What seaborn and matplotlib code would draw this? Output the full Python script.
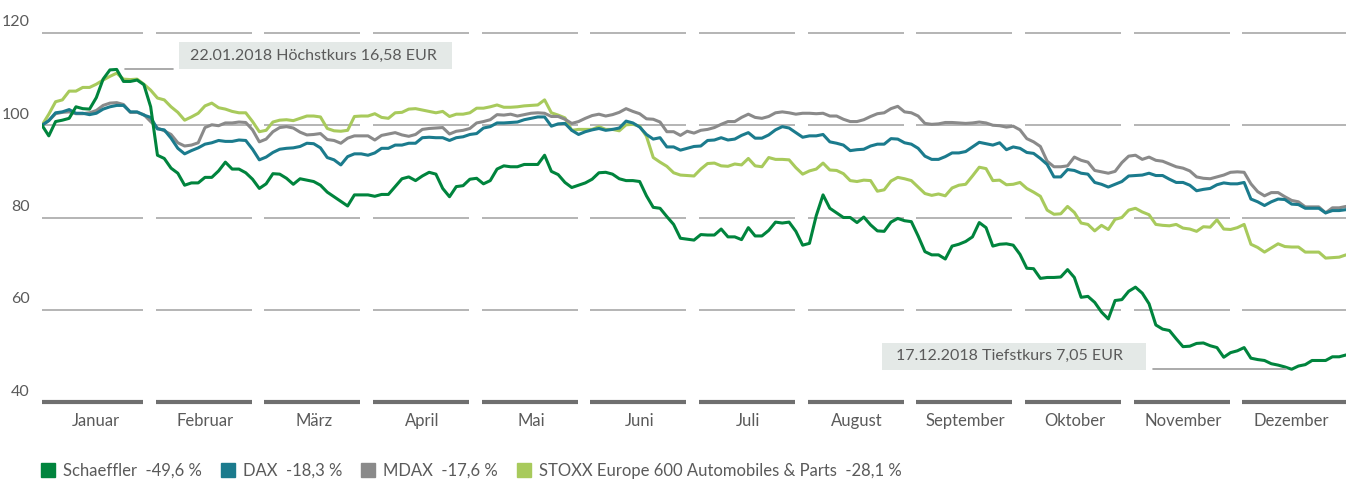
import matplotlib
matplotlib.use("Agg")
import matplotlib.pyplot as plt
import matplotlib.transforms as mtransforms
from matplotlib.lines import Line2D
from matplotlib.patches import Rectangle
import numpy as np
import pandas as pd
import seaborn as sns

# Indexed performance 2018 (start = 100), sixteen readings per month
months = ["Januar", "Februar", "März", "April", "Mai", "Juni", "Juli",
          "August", "September", "Oktober", "November", "Dezember"]
per_month = 16

schaeffler = [
    100.0, 97.7, 100.8, 101.1, 101.5, 104.0, 103.6, 103.5, 106.0, 110.0, 112.0, 112.1, 109.5, 109.5, 109.8, 108.8,
    104.0, 93.5, 92.8, 90.7, 89.6, 87.0, 87.5, 87.5, 88.7, 88.7, 90.1, 92.0, 90.5, 90.5, 89.7, 88.3,
    86.3, 87.3, 89.5, 89.4, 88.5, 87.2, 88.4, 88.1, 87.8, 87.0, 85.5, 84.5, 83.5, 82.5, 84.9, 84.9,
    84.9, 84.6, 85.0, 85.0, 86.7, 88.4, 88.8, 88.0, 89.0, 89.8, 89.4, 86.3, 84.5, 86.7, 86.9, 88.3,
    88.5, 87.3, 88.0, 90.5, 91.2, 91.0, 91.0, 91.5, 91.5, 91.5, 93.5, 90.0, 89.3, 87.6, 86.5, 87.0,
    87.5, 88.3, 89.7, 89.8, 89.4, 88.4, 88.0, 88.0, 87.8, 84.7, 82.2, 82.0, 80.2, 78.5, 75.5, 75.3,
    75.1, 76.3, 76.2, 76.2, 77.5, 75.8, 75.8, 75.2, 77.8, 76.0, 76.0, 77.2, 79.0, 78.8, 79.0, 77.0,
    74.0, 74.4, 80.4, 84.9, 82.0, 81.0, 80.0, 80.0, 78.9, 80.1, 78.4, 77.1, 77.0, 79.0, 79.8, 79.3,
    79.1, 76.0, 72.6, 71.9, 71.9, 71.0, 73.8, 74.2, 74.8, 75.8, 78.9, 77.8, 73.8, 74.2, 74.3, 74.0,
    72.0, 69.0, 68.9, 66.8, 67.0, 67.0, 67.1, 68.7, 67.0, 62.7, 62.9, 61.6, 59.5, 58.0, 62.0, 62.2,
    64.0, 64.9, 63.6, 61.3, 56.7, 55.8, 55.5, 53.7, 52.0, 52.1, 52.7, 52.8, 52.2, 51.8, 49.7, 50.7,
    51.1, 51.8, 49.5, 49.2, 49.0, 48.3, 48.0, 47.6, 47.1, 47.8, 48.1, 49.0, 49.0, 49.0, 49.8, 49.8,
    50.2,
]
dax = [
    100.0, 101.0, 102.7, 102.9, 103.4, 102.6, 102.6, 102.3, 102.6, 103.5, 104.0, 104.3, 104.3, 102.9, 102.9, 102.2,
    101.7, 99.2, 99.0, 97.2, 95.0, 93.8, 94.5, 95.1, 95.9, 96.2, 96.7, 96.5, 96.5, 96.8, 96.7, 94.8,
    92.5, 93.1, 94.1, 94.8, 95.0, 95.1, 95.4, 96.1, 96.0, 95.1, 93.0, 92.5, 91.4, 93.2, 93.8, 93.8,
    93.5, 94.0, 95.0, 95.0, 95.7, 95.7, 96.1, 96.1, 97.3, 97.4, 97.3, 97.3, 96.7, 97.3, 97.5, 98.0,
    98.2, 99.4, 99.7, 100.5, 100.5, 100.6, 100.7, 101.2, 101.5, 101.8, 101.8, 99.8, 100.3, 100.4, 98.9, 98.0,
    98.6, 99.0, 99.3, 98.9, 99.1, 99.4, 100.9, 100.5, 99.6, 98.0, 97.0, 97.3, 95.3, 95.3, 94.6, 95.0,
    95.4, 95.5, 96.7, 96.8, 97.3, 96.8, 97.0, 97.8, 98.4, 97.2, 97.2, 97.9, 99.0, 99.7, 99.4, 98.4,
    97.4, 97.7, 97.7, 98.0, 96.4, 96.1, 95.7, 94.5, 94.7, 94.8, 95.5, 95.9, 95.9, 97.1, 97.0, 96.2,
    95.9, 95.0, 93.3, 92.6, 92.6, 93.2, 94.0, 94.0, 94.3, 95.3, 96.3, 96.0, 95.7, 96.2, 94.7, 95.3,
    95.0, 94.1, 93.9, 92.8, 91.5, 88.8, 88.8, 90.4, 90.2, 89.6, 89.4, 87.6, 87.2, 86.6, 87.2, 87.8,
    89.0, 89.1, 89.2, 89.6, 89.1, 89.1, 88.3, 87.6, 87.6, 87.0, 85.8, 86.1, 86.3, 87.1, 87.5, 87.3,
    87.3, 87.6, 84.0, 83.4, 82.6, 83.4, 84.0, 83.9, 82.9, 82.8, 82.0, 82.0, 82.0, 81.0, 81.5, 81.5,
    81.7,
]
mdax = [
    100.0, 101.0, 102.5, 102.8, 102.9, 102.5, 102.5, 102.7, 103.2, 104.3, 104.8, 104.9, 104.5, 102.8, 102.8, 102.3,
    100.8, 99.4, 98.8, 98.0, 96.2, 95.5, 95.7, 96.2, 99.5, 100.1, 99.9, 100.5, 100.5, 100.7, 100.6, 99.0,
    96.4, 97.0, 98.6, 99.5, 99.7, 99.4, 98.5, 97.9, 98.0, 98.2, 96.9, 96.7, 96.1, 97.2, 97.7, 97.7,
    97.7, 96.8, 97.8, 98.1, 98.4, 97.9, 97.6, 98.0, 99.1, 99.3, 99.4, 99.5, 98.1, 98.7, 98.9, 99.3,
    100.5, 100.8, 101.2, 102.3, 102.2, 102.4, 102.0, 102.3, 102.6, 102.7, 102.6, 101.9, 101.9, 101.3, 100.4, 100.8,
    101.5, 102.1, 102.4, 102.0, 102.3, 102.8, 103.6, 103.0, 102.5, 101.4, 101.3, 100.7, 98.6, 98.6, 97.8, 98.7,
    98.3, 98.9, 99.1, 99.5, 100.2, 100.8, 100.8, 101.7, 102.4, 101.7, 101.5, 101.9, 102.7, 102.9, 102.7, 102.4,
    102.6, 102.6, 102.5, 102.6, 102.0, 102.0, 101.3, 100.8, 100.8, 101.2, 101.9, 102.5, 102.7, 103.6, 104.1, 102.9,
    102.7, 102.0, 100.4, 100.2, 100.3, 100.6, 100.6, 100.5, 100.4, 100.5, 100.7, 100.5, 100.0, 99.9, 99.6, 99.8,
    99.0, 97.1, 96.4, 95.4, 92.2, 91.0, 91.0, 91.2, 93.1, 92.4, 92.0, 90.2, 89.9, 89.6, 90.0, 91.9,
    93.3, 93.5, 92.6, 93.1, 92.4, 92.2, 91.6, 91.0, 90.7, 90.1, 88.8, 88.5, 88.4, 88.8, 89.2, 89.8,
    89.9, 89.8, 87.3, 85.6, 84.7, 85.4, 85.4, 84.5, 83.7, 83.4, 82.3, 82.3, 82.3, 81.0, 82.1, 82.1,
    82.4,
]
stoxx = [
    100.0, 102.4, 105.1, 105.5, 107.4, 107.4, 108.2, 108.2, 108.9, 109.8, 110.6, 111.3, 110.0, 109.9, 110.0, 108.9,
    107.6, 105.9, 105.5, 104.0, 102.8, 101.1, 101.8, 102.6, 104.2, 104.8, 103.8, 103.5, 103.0, 102.7, 102.7, 100.8,
    98.6, 98.9, 100.7, 101.1, 101.2, 101.0, 101.5, 102.0, 102.0, 101.8, 99.3, 98.8, 98.7, 98.9, 101.9, 102.0,
    102.0, 102.5, 101.7, 101.5, 102.7, 102.8, 103.5, 103.6, 103.3, 103.0, 102.7, 103.0, 101.9, 102.4, 102.4, 102.7,
    103.7, 103.7, 104.0, 104.4, 103.9, 103.9, 104.0, 104.2, 104.3, 104.4, 105.5, 102.7, 102.2, 101.6, 98.9, 99.1,
    99.1, 99.1, 99.7, 99.1, 99.1, 98.8, 100.1, 100.2, 99.8, 97.6, 93.0, 92.0, 91.1, 89.7, 89.2, 89.1,
    89.0, 90.5, 91.7, 91.8, 91.2, 91.1, 91.6, 91.4, 92.8, 91.2, 91.0, 93.0, 92.6, 92.6, 92.5, 90.8,
    89.4, 90.1, 90.5, 91.8, 90.3, 90.2, 89.5, 88.0, 87.8, 88.1, 88.0, 85.7, 86.0, 87.9, 88.7, 88.4,
    88.0, 86.6, 85.2, 84.8, 85.1, 84.7, 86.4, 87.0, 87.2, 89.0, 90.9, 90.6, 88.0, 88.1, 87.1, 87.2,
    87.6, 86.3, 85.5, 84.6, 81.6, 80.7, 80.8, 82.4, 81.1, 78.8, 78.5, 77.1, 78.3, 77.4, 79.6, 80.0,
    81.6, 82.0, 81.2, 80.6, 78.5, 78.3, 78.2, 78.5, 77.7, 77.5, 77.0, 78.0, 77.9, 79.5, 77.5, 77.4,
    77.8, 78.5, 74.2, 73.5, 72.5, 73.4, 74.3, 73.7, 73.6, 73.6, 72.5, 72.5, 72.5, 71.2, 71.3, 71.4,
    71.9,
]

series_names = ["Schaeffler", "DAX", "MDAX", "STOXX Europe 600 Automobiles & Parts"]
changes = ["-49,6 %", "-18,3 %", "-17,6 %", "-28,1 %"]
colors = ["#00843D", "#1B7B8D", "#8A8A8A", "#A8CA5C"]

t = np.arange(len(schaeffler)) / per_month
df = pd.DataFrame({"t": t, "Schaeffler": schaeffler, "DAX": dax,
                   "MDAX": mdax, "STOXX Europe 600 Automobiles & Parts": stoxx})
df = df.melt(id_vars="t", var_name="series", value_name="index")

sns.set_theme(style="white")
plt.rcParams["font.family"] = ["Lato", "DejaVu Sans"]
text_color = "#5A5A5A"

fig = plt.figure(figsize=(13.46, 4.79), dpi=100)
ax = fig.add_axes([42 / 1346, 1 - 402 / 479, 1304 / 1346, 369 / 479])

# month-wise broken grid lines
starts = np.arange(12) + 0.045
starts[0] = 0
ends = np.arange(1, 13) - 0.07
ends[-1] = 12
for level in [60, 80, 100, 120]:
    ax.hlines(np.full(12, level), starts, ends, color="#A8A8A8", lw=1.2,
              zorder=0, clip_on=False)
ax.hlines(np.full(12, 40), starts, ends, color="#6F6F6F", lw=3,
          zorder=0, clip_on=False)

palette = dict(zip(series_names, colors))
sns.lineplot(data=df, x="t", y="index", hue="series",
             hue_order=series_names[::-1], palette=palette,
             linewidth=2.2, legend=False, ax=ax)

# annotations
ax.plot([0.764, 1.205], [112.2, 112.2], color="#9C9C9C", lw=1.2)
ax.add_patch(Rectangle((1.26, 112.2), 2.51, 5.85, facecolor="#E4E9E7",
                       edgecolor="none", zorder=1))
ax.text(1.36, 115.1, "22.01.2018 Höchstkurs 16,58 EUR", ha="left",
        va="center", fontsize=11.5, color=text_color)
ax.plot([10.22, 11.45], [47.1, 47.1], color="#9C9C9C", lw=1.2)
ax.add_patch(Rectangle((7.73, 47.0), 2.43, 5.8, facecolor="#E4E9E7",
                       edgecolor="none", zorder=1))
ax.text(7.86, 49.9, "17.12.2018 Tiefstkurs 7,05 EUR", ha="left",
        va="center", fontsize=11.5, color=text_color)

ax.set_xlim(0, 12)
ax.set_ylim(40, 120)
ax.set_xlabel("")
ax.set_ylabel("")
ax.set_xticks(np.arange(12) + 0.5, months)
ax.set_yticks([40, 60, 80, 100, 120])
ax.tick_params(axis="x", length=0, pad=8, labelsize=12, labelcolor=text_color)
ax.tick_params(axis="y", length=0, pad=9, labelsize=11.5, labelcolor=text_color)
shift = mtransforms.ScaledTranslation(0, 0.12, fig.dpi_scale_trans)
for lab in ax.get_yticklabels():
    lab.set_transform(lab.get_transform() + shift)
sns.despine(ax=ax, left=True, bottom=True)
ax.grid(False)

handles = [Line2D([], [], marker="s", linestyle="none", markersize=10,
                  markerfacecolor=c, markeredgecolor=c) for c in colors]
labels = [f"{n}  {c}" for n, c in zip(series_names, changes)]
fig.legend(handles, labels, ncol=4, loc="center left",
           bbox_to_anchor=(40 / 1346, 1 - 471 / 479), frameon=False,
           fontsize=12, labelcolor=text_color, handlelength=1.0,
           handletextpad=0.4, columnspacing=1.05, borderpad=0,
           borderaxespad=0)

fig.savefig("out.png", dpi=100)
